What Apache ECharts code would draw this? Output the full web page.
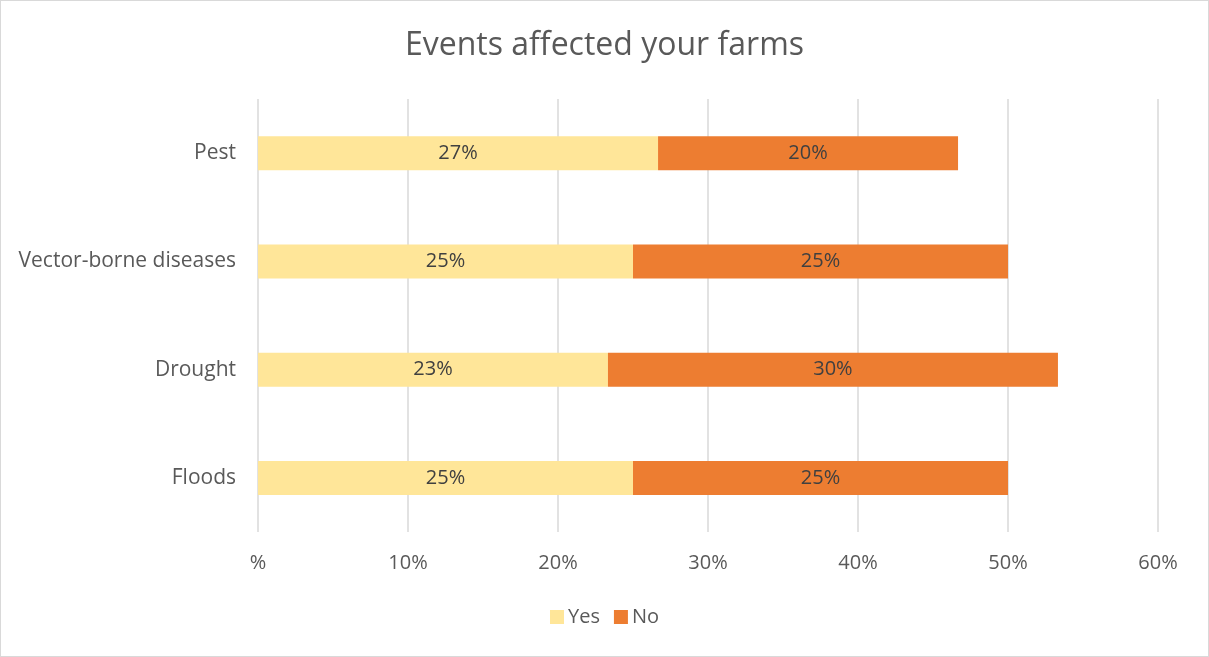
<!DOCTYPE html>
<html><head><meta charset="utf-8">
<script src="https://cdn.jsdelivr.net/npm/echarts@6/dist/echarts.min.js"></script>
<style>html,body{margin:0;padding:0;background:#fff}#c{width:1209px;height:657px;box-sizing:border-box;border:1px solid #D9D9D9}</style>
</head><body><div id="c"></div>
<script>
const categories = ['Floods', 'Drought', 'Vector-borne diseases', 'Pest'];
const yesValues = [25, 23.33, 25, 26.67];
const noValues = [25, 30, 25, 20];
const xTicks = [0, 10, 20, 30, 40, 50, 60];

const chart = echarts.init(document.getElementById('c'));
const font = '"Open Sans", Lato, sans-serif';
chart.setOption({
  animation: false,
  textStyle: { fontFamily: font },
  title: {
    text: 'Events affected your farms', left: 'center', top: 24,
    textStyle: { fontFamily: font, fontSize: 32, fontWeight: 'normal', color: '#595959' }
  },
  legend: {
    bottom: 24, left: 'center', itemWidth: 14, itemHeight: 14, itemGap: 14,
    icon: 'rect',
    textStyle: { fontFamily: font, fontSize: 20, color: '#595959', padding: [0, 0, 0, -1] },
    data: ['Yes', 'No']
  },
  grid: { left: 257, right: 50, top: 98, bottom: 124, containLabel: false },
  xAxis: {
    type: 'value', min: 0, max: 60, interval: 10,
    axisLine: { show: false }, axisTick: { show: false },
    splitLine: { lineStyle: { color: '#D9D9D9', width: 1.5 } },
    axisLabel: {
      margin: 21, fontSize: 20, color: '#595959', fontFamily: font,
      formatter: v => xTicks.includes(v) ? (v === 0 ? '%' : v + '%') : ''
    }
  },
  yAxis: {
    type: 'category', data: categories,
    axisLine: { show: false }, axisTick: { show: false },
    axisLabel: { margin: 22, fontSize: 21, color: '#595959', fontFamily: font }
  },
  series: [
    {
      name: 'Yes', type: 'bar', stack: 'a', data: yesValues, barWidth: 34,
      itemStyle: { color: '#FFE699' },
      label: { show: true, position: 'inside', fontSize: 20, color: '#404040', fontFamily: font,
        formatter: p => Math.round(p.value) + '%' }
    },
    {
      name: 'No', type: 'bar', stack: 'a', data: noValues, barWidth: 34,
      itemStyle: { color: '#ED7D31' },
      label: { show: true, position: 'inside', fontSize: 20, color: '#404040', fontFamily: font,
        formatter: p => Math.round(p.value) + '%' }
    }
  ]
});
</script></body></html>
